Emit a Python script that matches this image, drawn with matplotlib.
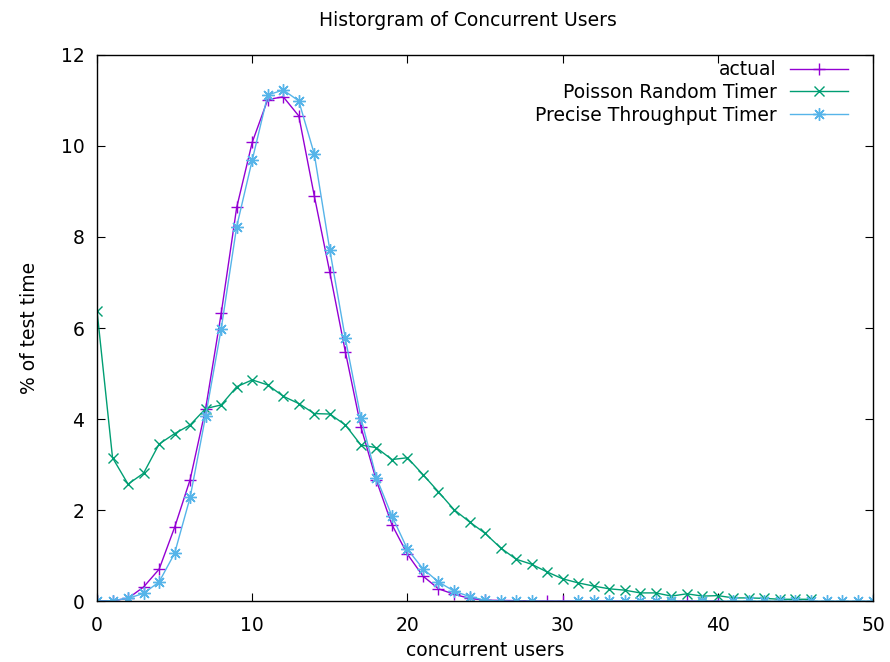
import numpy as np
import matplotlib
matplotlib.use("Agg")
from matplotlib import pyplot as plt

plt.rcParams["font.family"] = ["DejaVu Sans"]

# actual
x_actual = list(range(0, 26)) + [29, 30, 38, 40]
y_actual = [0.0, 0.01, 0.06, 0.31, 0.70, 1.62, 2.67, 4.23, 6.32, 8.65,
            10.08, 11.02, 11.08, 10.66, 8.90, 7.22, 5.48, 3.83, 2.65, 1.68,
            1.03, 0.55, 0.27, 0.15, 0.06, 0.02, 0.0, 0.0, 0.0, 0.0]

# Poisson Random Timer
x_poisson = list(range(0, 47))
y_poisson = [6.38, 3.15, 2.57, 2.81, 3.45, 3.68, 3.87, 4.23, 4.31, 4.71,
             4.86, 4.75, 4.50, 4.34, 4.12, 4.11, 3.87, 3.43, 3.37, 3.11,
             3.15, 2.78, 2.40, 2.01, 1.74, 1.49, 1.17, 0.92, 0.81, 0.64,
             0.49, 0.40, 0.33, 0.27, 0.24, 0.18, 0.18, 0.11, 0.16, 0.11,
             0.12, 0.07, 0.07, 0.06, 0.04, 0.04, 0.04]

# Precise Throughput Timer
x_precise = list(range(0, 29)) + list(range(31, 38)) + [39] + list(range(41, 51))
y_precise = [0.0, 0.01, 0.06, 0.17, 0.42, 1.05, 2.28, 4.07, 5.98, 8.23,
             9.69, 11.12, 11.23, 10.99, 9.82, 7.71, 5.77, 4.03, 2.71, 1.87,
             1.14, 0.71, 0.42, 0.22, 0.10, 0.02, 0.0, 0.0, 0.0] + [0.0] * 18

fig = plt.figure(figsize=(8.9, 6.62), dpi=100)
ax = fig.add_axes([0.109, 0.092, 0.872, 0.825])

ax.plot(x_actual, y_actual, color="#9400D3", lw=1, marker="+", ms=9, mew=1,
        label="actual")
ax.plot(x_poisson, y_poisson, color="#009E73", lw=1, marker="x", ms=7, mew=1,
        label="Poisson Random Timer")
ax.plot(x_precise, y_precise, color="#56B4E9", lw=1, marker=(8, 2, 0), ms=9, mew=1,
        label="Precise Throughput Timer")

ax.set_xlim(0, 50)
ax.set_ylim(0, 12)
ax.set_xticks(np.arange(0, 51, 10))
ax.set_yticks(np.arange(0, 13, 2))
ax.tick_params(direction="in", top=True, right=True, length=6, labelsize=13.5, pad=9)
ax.tick_params(axis="x", pad=11)
for s in ax.spines.values():
    s.set_linewidth(1)

fig.text(468 / 890, 1 - 21 / 662, "Historgram of Concurrent Users", fontsize=13.5,
         ha="center", va="center")
ax.set_xlabel("concurrent users", fontsize=13.5, labelpad=4)
ax.set_ylabel("% of test time", fontsize=13.5, labelpad=16)

ax.legend(loc="upper right", bbox_to_anchor=(0.977, 1.004), frameon=False,
          markerfirst=False, fontsize=13.5, handlelength=3.1, labelspacing=0.2,
          borderaxespad=0, borderpad=0.4, handletextpad=0.7)

fig.savefig("out.png", dpi=100)
